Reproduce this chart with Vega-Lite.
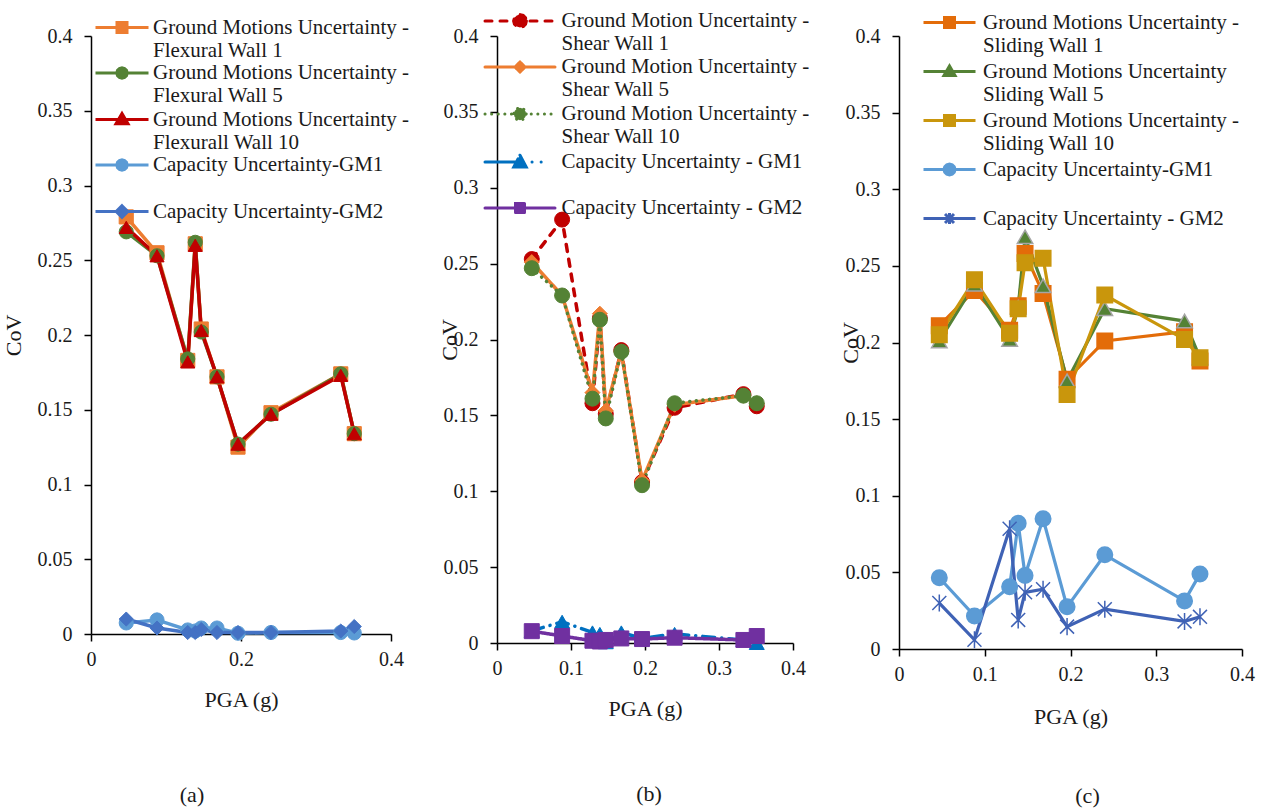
{
  "$schema": "https://vega.github.io/schema/vega-lite/v6.json",
  "background": "white",
  "padding": {"left": 2, "top": 9, "right": 5, "bottom": 5},
  "bounds": "flush",
  "spacing": 106,
  "resolve": {
    "scale": {"x": "independent", "y": "independent", "color": "independent", "fill": "independent", "stroke": "independent", "shape": "independent", "strokeDash": "independent"},
    "legend": {"color": "independent"}
  },
  "config": {
    "font": "Liberation Serif",
    "view": {"stroke": null},
    "axis": {"grid": false, "labelFlush": false, "domainColor": "#000", "domainWidth": 1.5, "tickColor": "#000", "tickWidth": 1.5, "tickSize": 7, "labelFont": "Liberation Serif", "labelFontSize": 20, "labelColor": "#1a1a1a", "labelPadding": 8, "titleFont": "Liberation Serif", "titleFontSize": 22, "titleFontWeight": "normal", "titleColor": "#1a1a1a"},
    "axisY": {"labelPadding": 12, "titleBaseline": "middle"},
    "legend": {"labelFont": "Liberation Serif", "labelFontSize": 21, "labelColor": "#1a1a1a", "labelLimit": 500, "symbolSize": 400, "symbolStrokeWidth": 3},
    "title": {"font": "Liberation Serif", "fontSize": 22, "fontWeight": "normal", "color": "#1a1a1a"}
  },
  "datasets": {
    "a": [
      {"s": "Ground Motions Uncertainty - Flexural Wall 1", "x": 0.047, "y": 0.279},
      {"s": "Ground Motions Uncertainty - Flexural Wall 1", "x": 0.088, "y": 0.255},
      {"s": "Ground Motions Uncertainty - Flexural Wall 1", "x": 0.129, "y": 0.183},
      {"s": "Ground Motions Uncertainty - Flexural Wall 1", "x": 0.139, "y": 0.261},
      {"s": "Ground Motions Uncertainty - Flexural Wall 1", "x": 0.147, "y": 0.204},
      {"s": "Ground Motions Uncertainty - Flexural Wall 1", "x": 0.168, "y": 0.172},
      {"s": "Ground Motions Uncertainty - Flexural Wall 1", "x": 0.196, "y": 0.125},
      {"s": "Ground Motions Uncertainty - Flexural Wall 1", "x": 0.240, "y": 0.148},
      {"s": "Ground Motions Uncertainty - Flexural Wall 1", "x": 0.333, "y": 0.174},
      {"s": "Ground Motions Uncertainty - Flexural Wall 1", "x": 0.351, "y": 0.134},
      {"s": "Ground Motions Uncertainty - Flexural Wall 5", "x": 0.047, "y": 0.269},
      {"s": "Ground Motions Uncertainty - Flexural Wall 5", "x": 0.088, "y": 0.253},
      {"s": "Ground Motions Uncertainty - Flexural Wall 5", "x": 0.129, "y": 0.184},
      {"s": "Ground Motions Uncertainty - Flexural Wall 5", "x": 0.139, "y": 0.262},
      {"s": "Ground Motions Uncertainty - Flexural Wall 5", "x": 0.147, "y": 0.202},
      {"s": "Ground Motions Uncertainty - Flexural Wall 5", "x": 0.168, "y": 0.172},
      {"s": "Ground Motions Uncertainty - Flexural Wall 5", "x": 0.196, "y": 0.127},
      {"s": "Ground Motions Uncertainty - Flexural Wall 5", "x": 0.240, "y": 0.147},
      {"s": "Ground Motions Uncertainty - Flexural Wall 5", "x": 0.333, "y": 0.174},
      {"s": "Ground Motions Uncertainty - Flexural Wall 5", "x": 0.351, "y": 0.134},
      {"s": "Ground Motions Uncertainty - Flexurall Wall 10", "x": 0.047, "y": 0.272},
      {"s": "Ground Motions Uncertainty - Flexurall Wall 10", "x": 0.088, "y": 0.253},
      {"s": "Ground Motions Uncertainty - Flexurall Wall 10", "x": 0.129, "y": 0.182},
      {"s": "Ground Motions Uncertainty - Flexurall Wall 10", "x": 0.139, "y": 0.260},
      {"s": "Ground Motions Uncertainty - Flexurall Wall 10", "x": 0.147, "y": 0.203},
      {"s": "Ground Motions Uncertainty - Flexurall Wall 10", "x": 0.168, "y": 0.172},
      {"s": "Ground Motions Uncertainty - Flexurall Wall 10", "x": 0.196, "y": 0.127},
      {"s": "Ground Motions Uncertainty - Flexurall Wall 10", "x": 0.240, "y": 0.147},
      {"s": "Ground Motions Uncertainty - Flexurall Wall 10", "x": 0.333, "y": 0.173},
      {"s": "Ground Motions Uncertainty - Flexurall Wall 10", "x": 0.351, "y": 0.134},
      {"s": "Capacity Uncertainty-GM1", "x": 0.047, "y": 0.0074},
      {"s": "Capacity Uncertainty-GM1", "x": 0.088, "y": 0.0094},
      {"s": "Capacity Uncertainty-GM1", "x": 0.129, "y": 0.0027},
      {"s": "Capacity Uncertainty-GM1", "x": 0.139, "y": 0.002},
      {"s": "Capacity Uncertainty-GM1", "x": 0.147, "y": 0.004},
      {"s": "Capacity Uncertainty-GM1", "x": 0.168, "y": 0.004},
      {"s": "Capacity Uncertainty-GM1", "x": 0.196, "y": 0.0005},
      {"s": "Capacity Uncertainty-GM1", "x": 0.240, "y": 0.001},
      {"s": "Capacity Uncertainty-GM1", "x": 0.333, "y": 0.001},
      {"s": "Capacity Uncertainty-GM1", "x": 0.351, "y": 0.0007},
      {"s": "Capacity Uncertainty-GM2", "x": 0.047, "y": 0.010},
      {"s": "Capacity Uncertainty-GM2", "x": 0.088, "y": 0.004},
      {"s": "Capacity Uncertainty-GM2", "x": 0.129, "y": 0.001},
      {"s": "Capacity Uncertainty-GM2", "x": 0.139, "y": 0.001},
      {"s": "Capacity Uncertainty-GM2", "x": 0.147, "y": 0.003},
      {"s": "Capacity Uncertainty-GM2", "x": 0.168, "y": 0.001},
      {"s": "Capacity Uncertainty-GM2", "x": 0.196, "y": 0.001},
      {"s": "Capacity Uncertainty-GM2", "x": 0.240, "y": 0.001},
      {"s": "Capacity Uncertainty-GM2", "x": 0.333, "y": 0.002},
      {"s": "Capacity Uncertainty-GM2", "x": 0.351, "y": 0.005}
    ],
    "b": [
      {"s": "Ground Motion Uncertainty - Shear Wall 1", "x": 0.047, "y": 0.253},
      {"s": "Ground Motion Uncertainty - Shear Wall 1", "x": 0.088, "y": 0.279},
      {"s": "Ground Motion Uncertainty - Shear Wall 1", "x": 0.129, "y": 0.158},
      {"s": "Ground Motion Uncertainty - Shear Wall 1", "x": 0.139, "y": 0.214},
      {"s": "Ground Motion Uncertainty - Shear Wall 1", "x": 0.147, "y": 0.151},
      {"s": "Ground Motion Uncertainty - Shear Wall 1", "x": 0.168, "y": 0.193},
      {"s": "Ground Motion Uncertainty - Shear Wall 1", "x": 0.196, "y": 0.106},
      {"s": "Ground Motion Uncertainty - Shear Wall 1", "x": 0.240, "y": 0.155},
      {"s": "Ground Motion Uncertainty - Shear Wall 1", "x": 0.333, "y": 0.164},
      {"s": "Ground Motion Uncertainty - Shear Wall 1", "x": 0.351, "y": 0.156},
      {"s": "Ground Motion Uncertainty - Shear Wall 5", "x": 0.047, "y": 0.251},
      {"s": "Ground Motion Uncertainty - Shear Wall 5", "x": 0.088, "y": 0.229},
      {"s": "Ground Motion Uncertainty - Shear Wall 5", "x": 0.129, "y": 0.165},
      {"s": "Ground Motion Uncertainty - Shear Wall 5", "x": 0.139, "y": 0.217},
      {"s": "Ground Motion Uncertainty - Shear Wall 5", "x": 0.147, "y": 0.153},
      {"s": "Ground Motion Uncertainty - Shear Wall 5", "x": 0.168, "y": 0.192},
      {"s": "Ground Motion Uncertainty - Shear Wall 5", "x": 0.196, "y": 0.107},
      {"s": "Ground Motion Uncertainty - Shear Wall 5", "x": 0.240, "y": 0.157},
      {"s": "Ground Motion Uncertainty - Shear Wall 5", "x": 0.333, "y": 0.163},
      {"s": "Ground Motion Uncertainty - Shear Wall 5", "x": 0.351, "y": 0.158},
      {"s": "Ground Motion Uncertainty - Shear Wall 10", "x": 0.047, "y": 0.247},
      {"s": "Ground Motion Uncertainty - Shear Wall 10", "x": 0.088, "y": 0.229},
      {"s": "Ground Motion Uncertainty - Shear Wall 10", "x": 0.129, "y": 0.161},
      {"s": "Ground Motion Uncertainty - Shear Wall 10", "x": 0.139, "y": 0.213},
      {"s": "Ground Motion Uncertainty - Shear Wall 10", "x": 0.147, "y": 0.148},
      {"s": "Ground Motion Uncertainty - Shear Wall 10", "x": 0.168, "y": 0.192},
      {"s": "Ground Motion Uncertainty - Shear Wall 10", "x": 0.196, "y": 0.104},
      {"s": "Ground Motion Uncertainty - Shear Wall 10", "x": 0.240, "y": 0.158},
      {"s": "Ground Motion Uncertainty - Shear Wall 10", "x": 0.333, "y": 0.163},
      {"s": "Ground Motion Uncertainty - Shear Wall 10", "x": 0.351, "y": 0.158},
      {"s": "Capacity Uncertainty - GM1", "x": 0.047, "y": 0.008},
      {"s": "Capacity Uncertainty - GM1", "x": 0.088, "y": 0.014},
      {"s": "Capacity Uncertainty - GM1", "x": 0.129, "y": 0.007},
      {"s": "Capacity Uncertainty - GM1", "x": 0.139, "y": 0.006},
      {"s": "Capacity Uncertainty - GM1", "x": 0.147, "y": 0.0005},
      {"s": "Capacity Uncertainty - GM1", "x": 0.168, "y": 0.007},
      {"s": "Capacity Uncertainty - GM1", "x": 0.196, "y": 0.003},
      {"s": "Capacity Uncertainty - GM1", "x": 0.240, "y": 0.006},
      {"s": "Capacity Uncertainty - GM1", "x": 0.333, "y": 0.002},
      {"s": "Capacity Uncertainty - GM1", "x": 0.351, "y": 0.0},
      {"s": "Capacity Uncertainty - GM2", "x": 0.047, "y": 0.0078},
      {"s": "Capacity Uncertainty - GM2", "x": 0.088, "y": 0.0046},
      {"s": "Capacity Uncertainty - GM2", "x": 0.129, "y": 0.0015},
      {"s": "Capacity Uncertainty - GM2", "x": 0.139, "y": 0.001},
      {"s": "Capacity Uncertainty - GM2", "x": 0.147, "y": 0.002},
      {"s": "Capacity Uncertainty - GM2", "x": 0.168, "y": 0.003},
      {"s": "Capacity Uncertainty - GM2", "x": 0.196, "y": 0.0026},
      {"s": "Capacity Uncertainty - GM2", "x": 0.240, "y": 0.0035},
      {"s": "Capacity Uncertainty - GM2", "x": 0.333, "y": 0.002},
      {"s": "Capacity Uncertainty - GM2", "x": 0.351, "y": 0.0046}
    ],
    "c": [
      {"s": "Ground Motions Uncertainty - Sliding Wall 1", "x": 0.047, "y": 0.211},
      {"s": "Ground Motions Uncertainty - Sliding Wall 1", "x": 0.088, "y": 0.234},
      {"s": "Ground Motions Uncertainty - Sliding Wall 1", "x": 0.129, "y": 0.208},
      {"s": "Ground Motions Uncertainty - Sliding Wall 1", "x": 0.139, "y": 0.224},
      {"s": "Ground Motions Uncertainty - Sliding Wall 1", "x": 0.147, "y": 0.258},
      {"s": "Ground Motions Uncertainty - Sliding Wall 1", "x": 0.168, "y": 0.232},
      {"s": "Ground Motions Uncertainty - Sliding Wall 1", "x": 0.196, "y": 0.176},
      {"s": "Ground Motions Uncertainty - Sliding Wall 1", "x": 0.240, "y": 0.201},
      {"s": "Ground Motions Uncertainty - Sliding Wall 1", "x": 0.333, "y": 0.207},
      {"s": "Ground Motions Uncertainty - Sliding Wall 1", "x": 0.351, "y": 0.188},
      {"s": "Ground Motions Uncertainty Sliding Wall 5", "x": 0.047, "y": 0.201},
      {"s": "Ground Motions Uncertainty Sliding Wall 5", "x": 0.088, "y": 0.238},
      {"s": "Ground Motions Uncertainty Sliding Wall 5", "x": 0.129, "y": 0.202},
      {"s": "Ground Motions Uncertainty Sliding Wall 5", "x": 0.139, "y": 0.223},
      {"s": "Ground Motions Uncertainty Sliding Wall 5", "x": 0.147, "y": 0.269},
      {"s": "Ground Motions Uncertainty Sliding Wall 5", "x": 0.168, "y": 0.237},
      {"s": "Ground Motions Uncertainty Sliding Wall 5", "x": 0.196, "y": 0.175},
      {"s": "Ground Motions Uncertainty Sliding Wall 5", "x": 0.240, "y": 0.222},
      {"s": "Ground Motions Uncertainty Sliding Wall 5", "x": 0.333, "y": 0.214},
      {"s": "Ground Motions Uncertainty Sliding Wall 5", "x": 0.351, "y": 0.190},
      {"s": "Ground Motions Uncertainty - Sliding Wall 10", "x": 0.047, "y": 0.205},
      {"s": "Ground Motions Uncertainty - Sliding Wall 10", "x": 0.088, "y": 0.241},
      {"s": "Ground Motions Uncertainty - Sliding Wall 10", "x": 0.129, "y": 0.206},
      {"s": "Ground Motions Uncertainty - Sliding Wall 10", "x": 0.139, "y": 0.222},
      {"s": "Ground Motions Uncertainty - Sliding Wall 10", "x": 0.147, "y": 0.252},
      {"s": "Ground Motions Uncertainty - Sliding Wall 10", "x": 0.168, "y": 0.255},
      {"s": "Ground Motions Uncertainty - Sliding Wall 10", "x": 0.196, "y": 0.166},
      {"s": "Ground Motions Uncertainty - Sliding Wall 10", "x": 0.240, "y": 0.231},
      {"s": "Ground Motions Uncertainty - Sliding Wall 10", "x": 0.333, "y": 0.202},
      {"s": "Ground Motions Uncertainty - Sliding Wall 10", "x": 0.351, "y": 0.190},
      {"s": "Capacity Uncertainty-GM1", "x": 0.047, "y": 0.0465},
      {"s": "Capacity Uncertainty-GM1", "x": 0.088, "y": 0.0216},
      {"s": "Capacity Uncertainty-GM1", "x": 0.129, "y": 0.0406},
      {"s": "Capacity Uncertainty-GM1", "x": 0.139, "y": 0.082},
      {"s": "Capacity Uncertainty-GM1", "x": 0.147, "y": 0.048},
      {"s": "Capacity Uncertainty-GM1", "x": 0.168, "y": 0.085},
      {"s": "Capacity Uncertainty-GM1", "x": 0.196, "y": 0.0275},
      {"s": "Capacity Uncertainty-GM1", "x": 0.240, "y": 0.0615},
      {"s": "Capacity Uncertainty-GM1", "x": 0.333, "y": 0.0314},
      {"s": "Capacity Uncertainty-GM1", "x": 0.351, "y": 0.049},
      {"s": "Capacity Uncertainty - GM2", "x": 0.047, "y": 0.030},
      {"s": "Capacity Uncertainty - GM2", "x": 0.088, "y": 0.006},
      {"s": "Capacity Uncertainty - GM2", "x": 0.129, "y": 0.0785},
      {"s": "Capacity Uncertainty - GM2", "x": 0.139, "y": 0.019},
      {"s": "Capacity Uncertainty - GM2", "x": 0.147, "y": 0.037},
      {"s": "Capacity Uncertainty - GM2", "x": 0.168, "y": 0.039},
      {"s": "Capacity Uncertainty - GM2", "x": 0.196, "y": 0.0146},
      {"s": "Capacity Uncertainty - GM2", "x": 0.240, "y": 0.026},
      {"s": "Capacity Uncertainty - GM2", "x": 0.333, "y": 0.018},
      {"s": "Capacity Uncertainty - GM2", "x": 0.351, "y": 0.021}
    ]
  },
  "hconcat": [
    {
      "width": 300, "height": 598,
      "data": {"name": "a"},
      "title": {"text": "(a)", "orient": "bottom", "anchor": "middle", "dx": -49, "offset": 75},
      "encoding": {
        "x": {"field": "x", "type": "quantitative", "scale": {"domain": [0, 0.4], "nice": false}, "axis": {"values": [0, 0.2, 0.4], "format": "~g", "title": "PGA (g)", "titlePadding": 20}},
        "y": {"field": "y", "type": "quantitative", "scale": {"domain": [0, 0.4], "nice": false}, "axis": {"values": [0, 0.05, 0.1, 0.15, 0.2, 0.25, 0.3, 0.35, 0.4], "format": "~g", "title": "CoV", "titleX": -78}}
      },
      "layer": [
        {
          "mark": {"type": "line", "strokeWidth": 3.5},
          "encoding": {
            "color": {"field": "s", "type": "nominal",
              "scale": {"domain": ["Ground Motions Uncertainty - Flexural Wall 1", "Ground Motions Uncertainty - Flexural Wall 5", "Ground Motions Uncertainty - Flexurall Wall 10", "Capacity Uncertainty-GM1", "Capacity Uncertainty-GM2"], "range": ["#ED7D31", "#548235", "#C00000", "#5B9BD5", "#4472C4"]},
              "legend": {"orient": "none", "legendX": 19.5, "legendY": -20, "title": null, "labelOffset": 19.5, "rowPadding": 0.5,
                "labelExpr": "[['Ground Motions Uncertainty -','Flexural Wall 1'],['Ground Motions Uncertainty -','Flexural Wall 5'],['Ground Motions Uncertainty -','Flexurall Wall 10'],['Capacity Uncertainty-GM1',' '],['Capacity Uncertainty-GM2',' ']][datum.index]",
                "encode": {
                  "symbols": {"update": {
                    "shape": {"signal": "['M-2.65,0H2.65M-0.5,-0.5H0.5V0.5H-0.5Z','M-2.65,0H2.65M0.52,0L0.45,0.26L0.26,0.45L0,0.52L-0.26,0.45L-0.45,0.26L-0.52,0L-0.45,-0.26L-0.26,-0.45L0,-0.52L0.26,-0.45L0.45,-0.26Z','M-2.65,0H2.65M0,-0.6L0.6,0.42L-0.6,0.42Z','M-2.65,0H2.65M0.52,0L0.45,0.26L0.26,0.45L0,0.52L-0.26,0.45L-0.45,0.26L-0.52,0L-0.45,-0.26L-0.26,-0.45L0,-0.52L0.26,-0.45L0.45,-0.26Z','M-2.65,0H2.65M0,-0.58L0.58,0L0,0.58L-0.58,0Z'][datum.index]"},
                    "fill": {"signal": "['#ED7D31','#548235','#C00000','#5B9BD5','#4472C4'][datum.index]"},
                    "strokeWidth": {"value": 3},
                    "opacity": {"value": 1}
                  }},
                  "labels": {"update": {"lineHeight": {"value": 23}}}
                }
              }
            }
          }
        },
        {
          "mark": {"type": "point", "filled": true, "size": 200, "opacity": 1, "strokeWidth": 1},
          "encoding": {
            "fill": {"field": "s", "type": "nominal", "legend": null,
              "scale": {"domain": ["Capacity Uncertainty-GM2", "Capacity Uncertainty-GM1", "Ground Motions Uncertainty - Flexurall Wall 10", "Ground Motions Uncertainty - Flexural Wall 5", "Ground Motions Uncertainty - Flexural Wall 1"], "range": ["#4472C4", "#5B9BD5", "#C00000", "#548235", "#ED7D31"]}},
            "stroke": {"field": "s", "type": "nominal", "legend": null,
              "scale": {"domain": ["Capacity Uncertainty-GM2", "Capacity Uncertainty-GM1", "Ground Motions Uncertainty - Flexurall Wall 10", "Ground Motions Uncertainty - Flexural Wall 5", "Ground Motions Uncertainty - Flexural Wall 1"], "range": ["#4472C4", "#5B9BD5", "#C00000", "#548235", "#ED7D31"]}},
            "shape": {"field": "s", "type": "nominal", "legend": null,
              "scale": {"domain": ["Capacity Uncertainty-GM2", "Capacity Uncertainty-GM1", "Ground Motions Uncertainty - Flexurall Wall 10", "Ground Motions Uncertainty - Flexural Wall 5", "Ground Motions Uncertainty - Flexural Wall 1"], "range": ["diamond", "circle", "triangle-up", "circle", "square"]}}
          }
        }
      ]
    },
    {
      "width": 296, "height": 607,
      "data": {"name": "b"},
      "title": {"text": "(b)", "orient": "bottom", "anchor": "middle", "dx": 4, "offset": 65},
      "encoding": {
        "x": {"field": "x", "type": "quantitative", "scale": {"domain": [0, 0.4], "nice": false}, "axis": {"values": [0, 0.1, 0.2, 0.3, 0.4], "format": "~g", "title": "PGA (g)", "titlePadding": 20}},
        "y": {"field": "y", "type": "quantitative", "scale": {"domain": [0, 0.4], "nice": false}, "axis": {"values": [0, 0.05, 0.1, 0.15, 0.2, 0.25, 0.3, 0.35, 0.4], "format": "~g", "title": "CoV", "titleX": -48}}
      },
      "layer": [
        {
          "mark": {"type": "line", "strokeWidth": 3.5, "strokeCap": "round"},
          "encoding": {
            "strokeDash": {"field": "s", "type": "nominal", "legend": null,
              "scale": {"domain": ["Capacity Uncertainty - GM2", "Capacity Uncertainty - GM1", "Ground Motion Uncertainty - Shear Wall 10", "Ground Motion Uncertainty - Shear Wall 5", "Ground Motion Uncertainty - Shear Wall 1"], "range": [[1, 0], [12, 7, 0.1, 7], [0.1, 6.5], [1, 0], [7, 8]]}},
            "color": {"field": "s", "type": "nominal",
              "scale": {"domain": ["Ground Motion Uncertainty - Shear Wall 1", "Ground Motion Uncertainty - Shear Wall 5", "Ground Motion Uncertainty - Shear Wall 10", "Capacity Uncertainty - GM1", "Capacity Uncertainty - GM2"], "range": ["#C00000", "#ED7D31", "#548235", "#0070C0", "#7030A0"]},
              "legend": {"orient": "none", "legendX": 11.5, "legendY": -26.5, "title": null, "labelOffset": 30, "rowPadding": 1,
                "labelExpr": "[['Ground Motion Uncertainty -','Shear Wall 1'],['Ground Motion Uncertainty -','Shear Wall 5'],['Ground Motion Uncertainty -','Shear Wall 10'],['Capacity Uncertainty - GM1',' '],['Capacity Uncertainty - GM2',' ']][datum.index]",
                "encode": {
                  "symbols": {"update": {
                    "shape": {"signal": "['M-3.5,0H3.5M0.64,0L0.554,0.32L0.32,0.554L0,0.64L-0.32,0.554L-0.554,0.32L-0.64,0L-0.554,-0.32L-0.32,-0.554L0,-0.64L0.32,-0.554L0.554,-0.32Z','M-3.5,0H3.5M0,-0.5L0.5,0L0,0.5L-0.5,0Z','M-3.5,0H3.5M0.62,0L0.537,0.31L0.31,0.537L0,0.62L-0.31,0.537L-0.537,0.31L-0.62,0L-0.537,-0.31L-0.31,-0.537L0,-0.62L0.31,-0.537L0.537,-0.31Z','M-3.5,0H3.5M0,-0.68L0.62,0.5L-0.62,0.5Z','M-3.5,0H3.5M-0.45,-0.45H0.45V0.45H-0.45Z'][datum.index]"},
                    "fill": {"signal": "['#C00000','#ED7D31','#548235','#0070C0','#7030A0'][datum.index]"},
                    "strokeDash": {"signal": "[[7,8],[1,0],[0.1,6.5],[35,12,0.1,9,0.1,20],[1,0]][datum.index]"},
                    "strokeCap": {"value": "round"},
                    "strokeWidth": {"value": 3},
                    "opacity": {"value": 1}
                  }},
                  "labels": {"update": {"lineHeight": {"value": 23}}}
                }
              }
            }
          }
        },
        {
          "mark": {"type": "point", "filled": true, "size": 225, "opacity": 1, "strokeWidth": 1},
          "encoding": {
            "fill": {"field": "s", "type": "nominal", "legend": null,
              "scale": {"domain": ["Capacity Uncertainty - GM2", "Capacity Uncertainty - GM1", "Ground Motion Uncertainty - Shear Wall 10", "Ground Motion Uncertainty - Shear Wall 5", "Ground Motion Uncertainty - Shear Wall 1"], "range": ["#7030A0", "#0070C0", "#548235", "#ED7D31", "#C00000"]}},
            "stroke": {"field": "s", "type": "nominal", "legend": null,
              "scale": {"domain": ["Capacity Uncertainty - GM2", "Capacity Uncertainty - GM1", "Ground Motion Uncertainty - Shear Wall 10", "Ground Motion Uncertainty - Shear Wall 5", "Ground Motion Uncertainty - Shear Wall 1"], "range": ["#7030A0", "#0070C0", "#548235", "#ED7D31", "#C00000"]}},
            "shape": {"field": "s", "type": "nominal", "legend": null,
              "scale": {"domain": ["Capacity Uncertainty - GM2", "Capacity Uncertainty - GM1", "Ground Motion Uncertainty - Shear Wall 10", "Ground Motion Uncertainty - Shear Wall 5", "Ground Motion Uncertainty - Shear Wall 1"], "range": ["square", "triangle-up", "circle", "diamond", "circle"]}}
          }
        }
      ]
    },
    {
      "width": 343, "height": 613,
      "data": {"name": "c"},
      "title": {"text": "(c)", "orient": "bottom", "anchor": "middle", "dx": 17, "offset": 59},
      "encoding": {
        "x": {"field": "x", "type": "quantitative", "scale": {"domain": [0, 0.4], "nice": false}, "axis": {"values": [0, 0.1, 0.2, 0.3, 0.4], "format": "~g", "title": "PGA (g)", "titlePadding": 22}},
        "y": {"field": "y", "type": "quantitative", "scale": {"domain": [0, 0.4], "nice": false}, "axis": {"values": [0, 0.05, 0.1, 0.15, 0.2, 0.25, 0.3, 0.35, 0.4], "format": "~g", "title": "CoV", "titleX": -49}}
      },
      "layer": [
        {
          "mark": {"type": "line", "strokeWidth": 3.2},
          "encoding": {
            "color": {"field": "s", "type": "nominal",
              "scale": {"domain": ["Ground Motions Uncertainty - Sliding Wall 1", "Ground Motions Uncertainty Sliding Wall 5", "Ground Motions Uncertainty - Sliding Wall 10", "Capacity Uncertainty-GM1", "Capacity Uncertainty - GM2"], "range": ["#E36C09", "#548235", "#C9960C", "#5B9BD5", "#3F62B5"]},
              "legend": {"orient": "none", "legendX": 39, "legendY": -25, "title": null, "labelOffset": 22, "rowPadding": 4,
                "labelExpr": "[['Ground Motions Uncertainty -','Sliding Wall 1'],['Ground Motions Uncertainty','Sliding Wall 5'],['Ground Motions Uncertainty -','Sliding Wall 10'],['Capacity Uncertainty-GM1',' '],['Capacity Uncertainty - GM2',' ']][datum.index]",
                "encode": {
                  "symbols": {"update": {
                    "shape": {"signal": "['M-2.6,0H2.6M-0.5,-0.5H0.5V0.5H-0.5Z','M-2.6,0H2.6M0,-0.55L0.55,0.4L-0.55,0.4Z','M-2.6,0H2.6M-0.5,-0.5H0.5V0.5H-0.5Z','M-2.6,0H2.6M0.55,0L0.476,0.275L0.275,0.476L0,0.55L-0.275,0.476L-0.476,0.275L-0.55,0L-0.476,-0.275L-0.275,-0.476L0,-0.55L0.275,-0.476L0.476,-0.275Z','M-2.6,0H2.6M-0.45,-0.45L0.45,0.45M-0.45,0.45L0.45,-0.45M0,-0.55V0.55'][datum.index]"},
                    "fill": {"signal": "['#E36C09','#548235','#C9960C','#5B9BD5','#3F62B5'][datum.index]"},
                    "strokeWidth": {"value": 3},
                    "opacity": {"value": 1}
                  }},
                  "labels": {"update": {"lineHeight": {"value": 23}}}
                }
              }
            }
          }
        },
        {
          "mark": {"type": "point", "filled": true, "size": 240, "opacity": 1, "strokeWidth": 1.5},
          "encoding": {
            "fill": {"field": "s", "type": "nominal", "legend": null,
              "scale": {"domain": ["Capacity Uncertainty - GM2", "Capacity Uncertainty-GM1", "Ground Motions Uncertainty - Sliding Wall 10", "Ground Motions Uncertainty Sliding Wall 5", "Ground Motions Uncertainty - Sliding Wall 1"], "range": ["#3F62B5", "#5B9BD5", "#C9960C", "#548235", "#E36C09"]}},
            "stroke": {"field": "s", "type": "nominal", "legend": null,
              "scale": {"domain": ["Capacity Uncertainty - GM2", "Capacity Uncertainty-GM1", "Ground Motions Uncertainty - Sliding Wall 10", "Ground Motions Uncertainty Sliding Wall 5", "Ground Motions Uncertainty - Sliding Wall 1"], "range": ["#3F62B5", "#5B9BD5", "#C9960C", "#A5A5A5", "#E36C09"]}},
            "shape": {"field": "s", "type": "nominal", "legend": null,
              "scale": {"domain": ["Capacity Uncertainty - GM2", "Capacity Uncertainty-GM1", "Ground Motions Uncertainty - Sliding Wall 10", "Ground Motions Uncertainty Sliding Wall 5", "Ground Motions Uncertainty - Sliding Wall 1"], "range": ["M-0.9,-0.9L0.9,0.9M-0.9,0.9L0.9,-0.9M0,-1.1V1.1", "circle", "square", "triangle-up", "square"]}}
          }
        }
      ]
    }
  ]
}
